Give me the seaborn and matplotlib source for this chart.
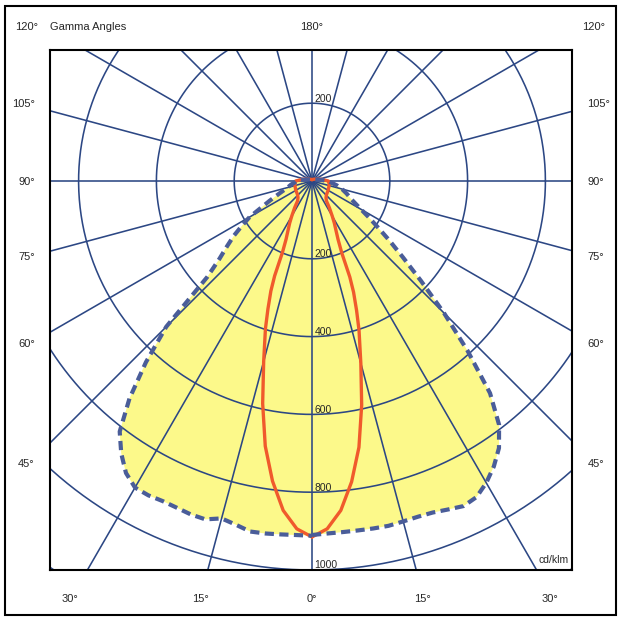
import numpy as np
import pandas as pd
import matplotlib
matplotlib.use("Agg")
import matplotlib.pyplot as plt
from matplotlib.patches import Rectangle
import seaborn as sns

# ── photometric data (cd/klm) ───────────────────────────────────────────
gamma = [0, 2.5, 5, 7.5, 10, 12.5, 15, 17.5, 20, 22.5, 25, 27.5, 30, 32.5, 35, 37.5,
         40, 42.5, 45, 47.5, 50, 52.5, 55, 57.5, 60, 65, 70, 75, 80, 85, 90,
         100, 120, 150, 180]
c0   = [910, 907, 906, 906, 907, 908, 906, 905, 907, 914, 922, 916, 896, 870, 838, 790,
        712, 592, 480, 380, 305, 250, 205, 172, 145, 112, 95, 80, 65, 50, 40,
        20, 8, 4, 3]
c180 = [912, 911, 912, 914, 915, 905, 898, 912, 912, 909, 908, 911, 910, 890, 855, 812,
        730, 632, 530, 365, 310, 275, 245, 213, 185, 120, 85, 65, 55, 45, 40,
        20, 8, 4, 3]

gamma_red = [0, 2.5, 5, 7.5, 10, 12.5, 15, 17.5, 19, 20.5, 21.5, 22.5, 24, 26, 28, 30,
             33, 36, 40, 45, 50, 60, 70, 80, 90, 100, 120, 150, 180]
c90  = [915, 895, 850, 780, 695, 590, 485, 402, 352, 305, 265, 200, 165, 140, 122, 104,
        82, 63, 56, 52, 50, 48, 46, 45, 42, 25, 10, 5, 3]
c270 = [915, 895, 850, 778, 692, 586, 480, 398, 348, 302, 262, 198, 164, 140, 122, 104,
        82, 63, 56, 52, 50, 48, 46, 45, 42, 25, 10, 5, 3]

ring_values = [200, 400, 600, 800, 1000, 1200]
side_labels = ["105°", "90°", "75°", "60°", "45°"]
bottom_labels = ["30°", "15°", "0°", "15°", "30°"]

# layout (pixel positions on a 621 x 621 canvas)
W = H = 621
CX, CY = 312, 181
LEFT, RIGHT, TOP, BOTTOM = 50, 572, 50, 570
PX = 0.389  # pixels per cd/klm
side_label_y = [103, 181, 256, 343, 463]
bottom_label_x = [70, 200, 312, 422, 550]

GRID = "#2c4784"
YELLOW = "#fcf98a"
RED = "#f05a2c"
DASH = "#4a5d99"


def half_plane(g, vals, side):
    rad = np.radians(g)
    v = np.asarray(vals, dtype=float)
    return pd.DataFrame({"x": side * v * np.sin(rad), "y": -v * np.cos(rad)})


# C0 right, C180 left (reversed so the outline is continuous)
wide = pd.concat([half_plane(gamma, c0, 1),
                  half_plane(gamma[::-1], c180[::-1], -1)], ignore_index=True)
narrow = pd.concat([half_plane(gamma_red, c90, 1),
                    half_plane(gamma_red[::-1], c270[::-1], -1)], ignore_index=True)

sns.set_style("white")
plt.rcParams["font.family"] = ["Liberation Sans", "DejaVu Sans"]

fig = plt.figure(figsize=(W / 100, H / 100), dpi=100)
ax = fig.add_axes([LEFT / W, (H - BOTTOM) / H, (RIGHT - LEFT) / W, (BOTTOM - TOP) / H])

x_lo, x_hi = -(CX - LEFT) / PX, (RIGHT - CX) / PX
y_lo, y_hi = -(BOTTOM - CY) / PX, (CY - TOP) / PX

# yellow area for the C0-C180 plane
ax.fill(wide["x"], wide["y"], color=YELLOW, lw=0, zorder=1)

# polar grid: rings and 15° rays
t = np.linspace(0, 2 * np.pi, 721)
for r in ring_values:
    ax.plot(r * np.cos(t), r * np.sin(t), color=GRID, lw=1.15, zorder=2)
for a in range(0, 360, 15):
    ra = np.radians(a)
    ax.plot([0, 2000 * np.sin(ra)], [0, -2000 * np.cos(ra)], color=GRID, lw=1.15, zorder=2)

sns.lineplot(data=narrow, x="x", y="y", sort=False, estimator=None,
             color=RED, lw=2.4, zorder=3, ax=ax)
sns.lineplot(data=wide, x="x", y="y", sort=False, estimator=None,
             color=DASH, lw=3.0, ls=(0, (2.2, 1.3)), zorder=4, ax=ax)

# ring value labels along the vertical axis
for r in ring_values[:5]:
    ax.text(6, -r + 12, str(r), fontsize=7.5, va="center", ha="left", zorder=5)
ax.text(6, ring_values[0] + 12, str(ring_values[0]), fontsize=7.5, va="center", ha="left", zorder=5)
ax.text(x_hi - 8, y_lo + 25, "cd/klm", fontsize=7.5, ha="right", va="center", zorder=5)

ax.set_xlim(x_lo, x_hi)
ax.set_ylim(y_lo, y_hi)
ax.set_xlabel("")
ax.set_ylabel("")

ax.set_yticks([(CY - y) / PX for y in side_label_y])
ax.set_yticklabels(side_labels)
ax.set_xticks([(x - CX) / PX for x in bottom_label_x])
ax.set_xticklabels(bottom_labels)
ax.tick_params(axis="y", length=0, labelsize=8, labelleft=True, labelright=True, pad=11)
ax.tick_params(axis="x", length=0, labelsize=8, pad=17)
for s in ax.spines.values():
    s.set_visible(True)
    s.set_color("black")
    s.set_linewidth(1.5)


# header row
def ftext(px, py, s, ha="center"):
    fig.text(px / W, 1 - py / H, s, fontsize=8, ha=ha, va="center")


ftext(27, 27, "120°")
ftext(50, 27, "Gamma Angles", ha="left")
ftext(CX, 27, "180°")
ftext(594, 27, "120°")

fig.patches.append(Rectangle((5 / W, 6 / H), 611 / W, 609 / H, transform=fig.transFigure,
                             fill=False, ec="black", lw=1.5))

fig.savefig("out.png", dpi=100)
